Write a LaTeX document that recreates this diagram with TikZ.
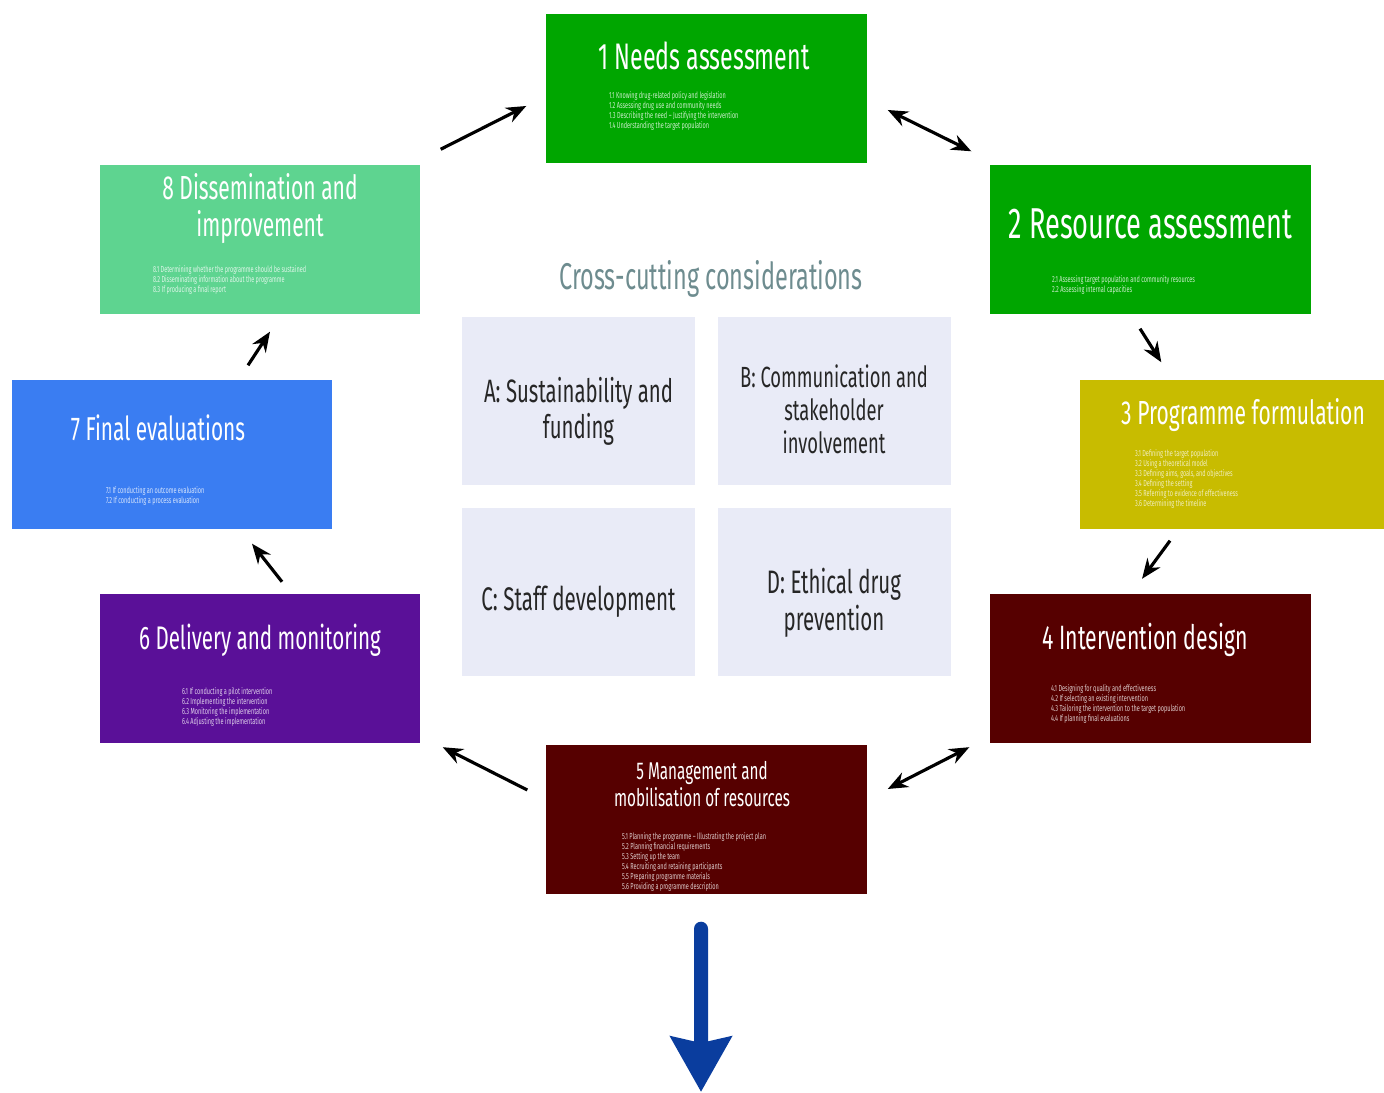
\documentclass[tikz,border=0pt]{standalone}
\usepackage{fontspec}
\setmainfont{Fira Sans}[FakeStretch=0.63]
\frenchspacing
\usetikzlibrary{arrows.meta,positioning,calc}
\definecolor{needgreen}{RGB}{0,166,0}
\definecolor{formyellow}{RGB}{200,188,0}
\definecolor{designred}{RGB}{86,0,0}
\definecolor{delivpurple}{RGB}{90,16,152}
\definecolor{evalblue}{RGB}{58,125,242}
\definecolor{dissmint}{RGB}{94,212,144}
\definecolor{crossfill}{RGB}{233,235,247}
\definecolor{crosstext}{RGB}{110,140,143}
\definecolor{exitblue}{RGB}{10,61,158}
\newcommand{\subfont}{\fontsize{2.5}{2.85}\selectfont}
\tikzset{
  stage/.style={inner sep=0pt, minimum width=3.21cm, minimum height=1.49cm},
  ttl/.style={text=white, align=center, inner sep=0pt, font=\fontsize{10.5}{10.5}\selectfont},
  sub/.style={align=left, inner sep=0pt, anchor=north west, font=\subfont},
  crossbox/.style={fill=crossfill, inner sep=0pt, minimum width=2.33cm, minimum height=1.68cm},
  crosslbl/.style={inner sep=0pt, align=center, text=black!85, font=\fontsize{9.2}{10.2}\selectfont},
  cyc/.style={-{Stealth[length=2mm,width=1.6mm]}, line width=0.9pt},
  cycboth/.style={{Stealth[length=2mm,width=1.6mm]}-{Stealth[length=2mm,width=1.6mm]}, line width=0.9pt},
  exitarr/.style={-{Stealth[length=5.5mm,width=6mm,inset=0.6mm]}, exitblue, line width=1.4mm, line cap=round},
}

\begin{document}
\begin{tikzpicture}
  \useasboundingbox (0,0) rectangle (13.84,10.92);

  % stages of the cycle
  \node[stage, fill=needgreen] (s1) at (7.065,10.035) {};
  \node[stage, fill=needgreen] (s2) at (11.505,8.525) {};
  \node[stage, fill=formyellow, minimum width=3.04cm] (s3) at (12.32,6.375) {};
  \node[stage, fill=designred] (s4) at (11.505,4.23) {};
  \node[stage, fill=designred] (s5) at (7.065,2.725) {};
  \node[stage, fill=delivpurple, minimum width=3.2cm] (s6) at (2.60,4.23) {};
  \node[stage, fill=evalblue, minimum width=3.2cm] (s7) at (1.72,6.375) {};
  \node[stage, fill=dissmint, minimum width=3.2cm] (s8) at (2.60,8.525) {};

  \node[ttl] (t1) at ([shift={(-0.025,-0.43)}]s1.north) {1 Needs assessment};
  \node[ttl, font=\fontsize{12.3}{12.3}\selectfont] (t2) at ([yshift=-0.60cm]s2.north) {2 Resource assessment};
  \node[ttl, font=\fontsize{9.5}{9.5}\selectfont] (t3) at ([shift={(0.11,-0.36)}]s3.north) {3 Programme formulation};
  \node[ttl, font=\fontsize{9.6}{9.6}\selectfont] (t4) at ([shift={(-0.055,-0.46)}]s4.north) {4 Intervention design};
  \node[ttl, font=\fontsize{6.9}{7.7}\selectfont] (t5) at ([shift={(-0.045,-0.395)}]s5.north) {5 Management and\\mobilisation of resources};
  \node[ttl, font=\fontsize{9.3}{9.3}\selectfont] (t6) at ([yshift=-0.46cm]s6.north) {6 Delivery and monitoring};
  \node[ttl, font=\fontsize{9.4}{9.4}\selectfont] (t7) at ([shift={(-0.14,-0.49)}]s7.north) {7 Final evaluations};
  \node[ttl, font=\fontsize{9.5}{10.5}\selectfont] (t8) at ([yshift=-0.445cm]s8.north) {8 Dissemination and\\improvement};

  \node[sub, text=white!80!needgreen] (l1) at ([shift={(0.63,-0.78)}]s1.north west)
    {1.1 Knowing drug-related policy and legislation\\1.2 Assessing drug use and community needs\\1.3 Describing the need -- Justifying the intervention\\1.4 Understanding the target population};
  \node[sub, text=white!80!needgreen] (l2) at ([shift={(0.62,-1.11)}]s2.north west)
    {2.1 Assessing target population and community resources\\2.2 Assessing internal capacities};
  \node[sub, text=white!75!formyellow] (l3) at ([shift={(0.55,-0.70)}]s3.north west)
    {3.1 Defining the target population\\3.2 Using a theoretical model\\3.3 Defining aims, goals, and objectives\\3.4 Defining the setting\\3.5 Referring to evidence of effectiveness\\3.6 Determining the timeline};
  \node[sub, text=white!80!designred] (l4) at ([shift={(0.61,-0.90)}]s4.north west)
    {4.1 Designing for quality and effectiveness\\4.2 If selecting an existing intervention\\4.3 Tailoring the intervention to the target population\\4.4 If planning final evaluations};
  \node[sub, text=white!80!designred] (l5) at ([shift={(0.76,-0.88)}]s5.north west)
    {5.1 Planning the programme -- Illustrating the project plan\\5.2 Planning financial requirements\\5.3 Setting up the team\\5.4 Recruiting and retaining participants\\5.5 Preparing programme materials\\5.6 Providing a programme description};
  \node[sub, text=white!80!delivpurple] (l6) at ([shift={(0.82,-0.93)}]s6.north west)
    {6.1 If conducting a pilot intervention\\6.2 Implementing the intervention\\6.3 Monitoring the implementation\\6.4 Adjusting the implementation};
  \node[sub, text=white!80!evalblue] (l7) at ([shift={(0.94,-1.07)}]s7.north west)
    {7.1 If conducting an outcome evaluation\\7.2 If conducting a process evaluation};
  \node[sub, text=white!80!dissmint] (l8) at ([shift={(0.53,-1.01)}]s8.north west)
    {8.1 Determining whether the programme should be sustained\\8.2 Disseminating information about the programme\\8.3 If producing a final report};

  % cross-cutting considerations
  \node[text=crosstext, inner sep=0pt, font=\fontsize{10.6}{11}\selectfont] (cc) at (7.11,8.13) {Cross-cutting considerations};
  \node[crossbox] (ca) at (5.785,6.91) {};
  \node[crossbox] (cb) at (8.34,6.91) {};
  \node[crossbox] (cc2) at (5.785,5.00) {};
  \node[crossbox] (cd) at (8.34,5.00) {};
  \node[crosslbl] (cat) at ([yshift=-0.1cm]ca.center) {A: Sustainability and\\funding};
  \node[crosslbl, font=\fontsize{8.3}{9.4}\selectfont] (cbt) at ([yshift=-0.08cm]cb.center) {B: Communication and\\stakeholder\\involvement};
  \node[crosslbl, font=\fontsize{9.3}{10.2}\selectfont] (cct) at ([yshift=-0.1cm]cc2.center) {C: Staff development};
  \node[crosslbl, font=\fontsize{9.25}{10.4}\selectfont] (cdt) at ([yshift=-0.11cm]cd.center) {D: Ethical drug\\prevention};

  % arrows round the cycle
  \draw[cyc] ([shift={(0.2,0.15)}]s8.north east) -- ([shift={(-0.19,-0.175)}]s1.west);
  \draw[cycboth] ([shift={(0.2,-0.215)}]s1.east) -- ([shift={(-0.18,0.13)}]s2.north west);
  \draw[cyc] ([shift={(-0.105,-0.14)}]s2.south) -- ([shift={(0.82,0.17)}]s3.north west);
  \draw[cyc] ([shift={(-0.62,-0.11)}]s3.south) -- ([shift={(-0.085,0.15)}]s4.north);
  \draw[cycboth] ([shift={(-0.2,-0.03)}]s4.south west) -- ([shift={(0.2,0.305)}]s5.east);
  \draw[cyc] ([shift={(-0.18,0.295)}]s5.west) -- ([shift={(0.22,-0.03)}]s6.south east);
  \draw[cyc] ([shift={(0.22,0.12)}]s6.north) -- ([shift={(0.8,-0.14)}]s7.south);
  \draw[cyc] ([shift={(0.76,0.14)}]s7.north) -- ([shift={(0.1,-0.17)}]s8.south);

  \coordinate (exit) at (7.01,0.0);
  \draw[exitarr] ([shift={(-0.055,-0.34)}]s5.south) -- (exit);
\end{tikzpicture}
\end{document}
